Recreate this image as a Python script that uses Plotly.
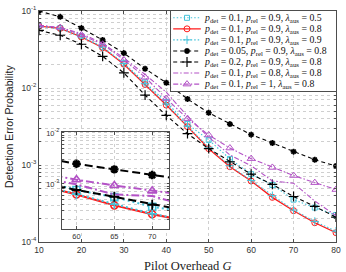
import plotly.graph_objects as go

G = [10, 15, 20, 25, 30, 35, 40, 45, 50, 55, 60, 65, 70, 75, 80]

pe_det01_rel09_aus05 = [0.064, 0.060, 0.047, 0.034, 0.021, 0.0118, 0.0066, 0.0034, 0.00212, 0.00120, 0.00076, 0.00055, 0.000355, 0.00028, 0.000224]
pe_det01_rel09_aus08 = [0.0635, 0.0595, 0.046, 0.0333, 0.0204, 0.0111, 0.0060, 0.00315, 0.00163, 0.00095, 0.00062, 0.00038, 0.000255, 0.000178, 0.000132]
pe_det01_rel09_aus09 = [0.063, 0.059, 0.046, 0.034, 0.0208, 0.0115, 0.0062, 0.0032, 0.0017, 0.00098, 0.00063, 0.00040, 0.00026, 0.000185, 0.000138]
pe_det005_rel09_aus08 = [0.100, 0.084, 0.060, 0.042, 0.0284, 0.0178, 0.0117, 0.0072, 0.00476, 0.0034, 0.00248, 0.00193, 0.00149, 0.00117, 0.00097]
pe_det02_rel09_aus08 = [0.056, 0.0484, 0.037, 0.0258, 0.0157, 0.0081, 0.0044, 0.00255, 0.00163, 0.0011, 0.00076, 0.00056, 0.00039, 0.00029, 0.00021]
pe_det01_rel08_aus08 = [0.065, 0.061, 0.051, 0.038, 0.0245, 0.0150, 0.0088, 0.0043, 0.0023, 0.00135, 0.00098, 0.00062, 0.00058, 0.00034, 0.00022]
pe_det01_rel1_aus08 = [0.065, 0.061, 0.049, 0.037, 0.0232, 0.0138, 0.0073, 0.0040, 0.00245, 0.00166, 0.00121, 0.00093, 0.00073, 0.00059, 0.00048]

labels = [
    "<i>p</i><sub>det</sub> = 0.1, <i>p</i><sub>rel</sub> = 0.9, <i>λ</i><sub>aus</sub> = 0.5",
    "<i>p</i><sub>det</sub> = 0.1, <i>p</i><sub>rel</sub> = 0.9, <i>λ</i><sub>aus</sub> = 0.8",
    "<i>p</i><sub>det</sub> = 0.1, <i>p</i><sub>rel</sub> = 0.9, <i>λ</i><sub>aus</sub> = 0.9",
    "<i>p</i><sub>det</sub> = 0.05, <i>p</i><sub>rel</sub> = 0.9, <i>λ</i><sub>aus</sub> = 0.8",
    "<i>p</i><sub>det</sub> = 0.2, <i>p</i><sub>rel</sub> = 0.9, <i>λ</i><sub>aus</sub> = 0.8",
    "<i>p</i><sub>det</sub> = 0.1, <i>p</i><sub>rel</sub> = 0.8, <i>λ</i><sub>aus</sub> = 0.8",
    "<i>p</i><sub>det</sub> = 0.1, <i>p</i><sub>rel</sub> = 1, <i>λ</i><sub>aus</sub> = 0.8",
]

CYAN = "#45C3DA"
RED = "#FF1A1A"
BLACK = "#000000"
MAG = "#B352C6"

series = [
    dict(y=pe_det01_rel09_aus05, color=CYAN, dash="1.5px,2px", sym="square-open", size=5, isize=7, dash_in="2px,3px", mw=1, imw=1.6),
    dict(y=pe_det01_rel09_aus08, color=RED, dash="solid", sym="circle-open", size=6, isize=7, dash_in="solid", mw=1, imw=1.6),
    dict(y=pe_det01_rel09_aus09, color=CYAN, dash="1.5px,2px", sym="cross-thin-open", size=6, isize=7, dash_in="2px,3px", mw=1, imw=1.6),
    dict(y=pe_det005_rel09_aus08, color=BLACK, dash="4px,3px", sym="asterisk-open", size=5, isize=7, dash_in="8px,4px", mw=1.6, imw=2.4),
    dict(y=pe_det02_rel09_aus08, color=BLACK, dash="4px,3px", sym="cross-thin-open", size=7, isize=7, dash_in="8px,4px", mw=1.2, imw=1.8),
    dict(y=pe_det01_rel08_aus08, color=MAG, dash="5px,2px,1.5px,2px", sym=None, size=0, isize=0, dash_in="8px,3px,2px,3px", mw=1, imw=1.6),
    dict(y=pe_det01_rel1_aus08, color=MAG, dash="5px,2px,1.5px,2px", sym="triangle-up-open", size=7, isize=8, dash_in="8px,3px,2px,3px", mw=1, imw=1.6),
]

fig = go.Figure()

# main plot
for s in series:
    mode = "lines+markers" if s["sym"] else "lines"
    fig.add_trace(go.Scatter(
        x=G, y=s["y"], mode=mode, xaxis="x", yaxis="y", showlegend=False,
        line=dict(color=s["color"], width=1.1 if s["color"] != RED else 1.3, dash=s["dash"]),
        marker=dict(symbol=s["sym"] or "circle", size=s["size"], color=s["color"],
                    line=dict(color=s["color"], width=s["mw"])),
    ))

# inset
for s in series:
    mode = "lines+markers" if s["sym"] else "lines"
    fig.add_trace(go.Scatter(
        x=G, y=s["y"], mode=mode, xaxis="x2", yaxis="y2", showlegend=False,
        line=dict(color=s["color"], width=2.0, dash=s["dash_in"]),
        marker=dict(symbol=s["sym"] or "circle", size=s["isize"], color=s["color"],
                    line=dict(color=s["color"], width=s["imw"])),
    ))

# custom legend (drawn in its own box, pixel-like coordinates)
row_y = [12, 23.3, 34.6, 46, 57.3, 68.6, 80]
for s, ry, lab in zip(series, row_y, labels):
    fig.add_trace(go.Scatter(
        x=[175, 203], y=[ry, ry], mode="lines", xaxis="x3", yaxis="y3", showlegend=False,
        line=dict(color=s["color"], width=1.1, dash=s["dash"]), hoverinfo="skip",
    ))
    if s["sym"]:
        fig.add_trace(go.Scatter(
            x=[189], y=[ry], mode="markers", xaxis="x3", yaxis="y3", showlegend=False,
            marker=dict(symbol=s["sym"], size=s["size"], color=s["color"],
                        line=dict(color=s["color"], width=s["mw"])), hoverinfo="skip",
        ))
    fig.add_annotation(x=204, y=ry, xref="x3", yref="y3", text=lab, showarrow=False,
                       xanchor="left", yanchor="middle",
                       font=dict(family="Liberation Serif", size=9.8, color="#111"))

minor_vals = []
for e in [1e-4, 1e-3, 1e-2]:
    for k in range(1, 10):
        minor_vals.append(k * e)
minor_vals.append(1e-1)
ytext = []
for v in minor_vals:
    if abs(v - 1e-4) < 1e-12:
        ytext.append("10<sup>-4</sup>")
    elif abs(v - 1e-3) < 1e-12:
        ytext.append("10<sup>-3</sup>")
    elif abs(v - 1e-2) < 1e-12:
        ytext.append("10<sup>-2</sup>")
    elif abs(v - 1e-1) < 1e-12:
        ytext.append("10<sup>-1</sup>")
    else:
        ytext.append("")

inset_text = []
for v in minor_vals:
    if abs(v - 1e-3) < 1e-12:
        inset_text.append("10<sup>-3</sup>")
    elif abs(v - 1e-2) < 1e-12:
        inset_text.append("10<sup>-2</sup>")
    else:
        inset_text.append("")

AX = "#4d4d4d"
GRID = "#cfcfcf"
tickfont = dict(family="Liberation Sans", size=8.5, color="#333")

fig.update_layout(
    width=346, height=272,
    margin=dict(l=39, r=6, t=5, b=30),
    paper_bgcolor="white", plot_bgcolor="white",
    xaxis=dict(domain=[0, 1], range=[10, 80], tickvals=[10, 20, 30, 40, 50, 60, 70, 80],
               showgrid=True, gridcolor=GRID, griddash="dot", gridwidth=1,
               showline=True, linecolor=AX, linewidth=1, mirror="ticks",
               ticks="inside", ticklen=3, tickcolor=AX, tickfont=tickfont, zeroline=False, anchor="y"),
    yaxis=dict(domain=[0, 1], type="log", range=[-4, -1], tickvals=minor_vals, ticktext=ytext,
               showgrid=True, gridcolor=GRID, griddash="dot", gridwidth=1,
               showline=True, linecolor=AX, linewidth=1, mirror="ticks",
               ticks="inside", ticklen=2, tickcolor=AX, tickfont=tickfont, zeroline=False, anchor="x"),
    xaxis2=dict(domain=[0.0764, 0.4385], range=[58.05, 72.25], tickvals=[60, 65, 70],
                showgrid=True, gridcolor=GRID, griddash="dot", gridwidth=1,
                showline=True, linecolor=AX, linewidth=1, mirror="ticks",
                ticks="inside", ticklen=3, tickcolor=AX,
                tickfont=dict(family="Liberation Sans", size=7.5, color="#333"),
                zeroline=False, anchor="y2"),
    yaxis2=dict(domain=[0.0549, 0.4768], type="log", range=[-3.89, -1.98],
                tickvals=minor_vals, ticktext=inset_text,
                showgrid=True, gridcolor=GRID, griddash="dot", gridwidth=1,
                showline=True, linecolor=AX, linewidth=1, mirror="ticks",
                ticks="inside", ticklen=2, tickcolor=AX,
                tickfont=dict(family="Liberation Sans", size=7.5, color="#333"),
                zeroline=False, anchor="x2"),
    xaxis3=dict(domain=[0.4452, 1.0], range=[173, 340], showgrid=False, zeroline=False,
                showticklabels=False, ticks="", showline=True, linecolor=AX, linewidth=1,
                mirror=True, anchor="y3", fixedrange=True),
    yaxis3=dict(domain=[0.654, 1.0], range=[87, 5], showgrid=False, zeroline=False,
                showticklabels=False, ticks="", showline=True, linecolor=AX, linewidth=1,
                mirror=True, anchor="x3", fixedrange=True),
)

fig.add_annotation(text="Detection Error Probability", xref="paper", yref="paper",
                   x=-0.103, y=0.5, textangle=-90, showarrow=False,
                   xanchor="center", yanchor="middle",
                   font=dict(family="Liberation Sans", size=10.5, color="#222"))
fig.add_annotation(text="Pilot Overhead <i>G</i>", xref="paper", yref="paper",
                   x=0.5, y=-0.103, showarrow=False, xanchor="center", yanchor="middle",
                   font=dict(family="Liberation Serif", size=12.5, color="#222"))

fig.write_html("out.html", config={"displayModeBar": False},
               post_script="document.body.style.margin='0';document.body.style.padding='0';"
                           "document.documentElement.style.overflow='hidden';")
